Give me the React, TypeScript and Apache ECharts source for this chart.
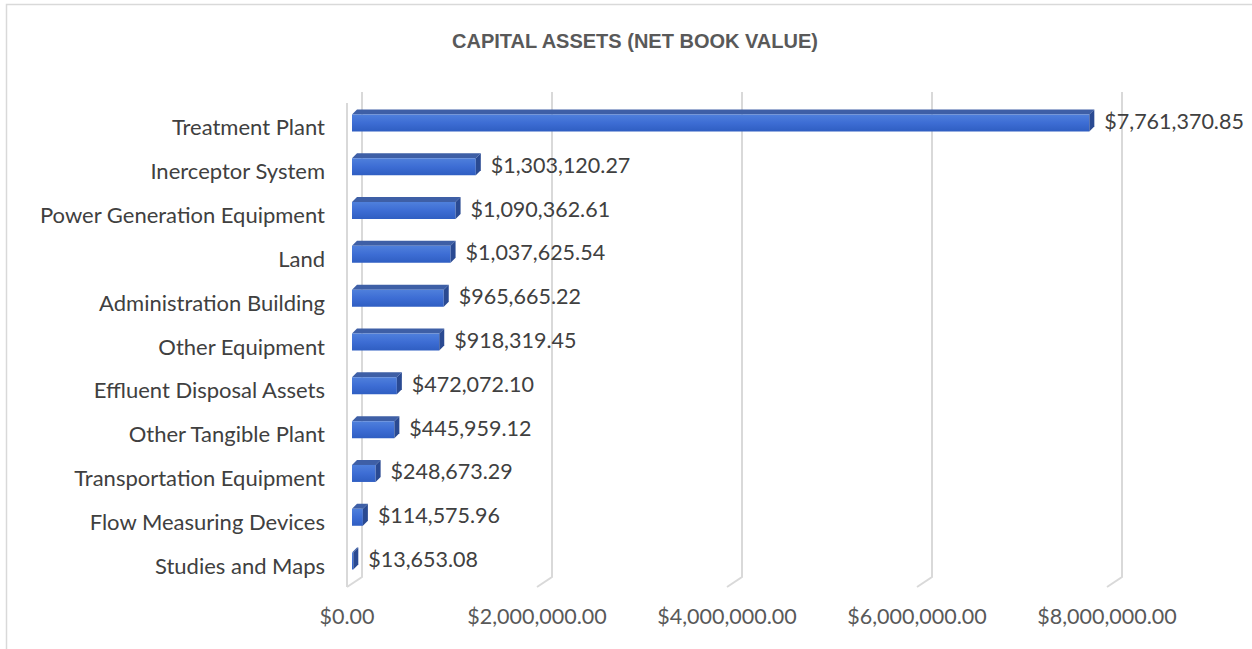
import React, { useEffect, useRef } from "react";
import * as echarts from "echarts";

const titleText = "CAPITAL ASSETS (NET BOOK VALUE)";
const categories = [
  "Treatment Plant",
  "Inerceptor System",
  "Power Generation Equipment",
  "Land",
  "Administration Building",
  "Other Equipment",
  "Effluent Disposal Assets",
  "Other Tangible Plant",
  "Transportation Equipment",
  "Flow Measuring Devices",
  "Studies and Maps",
];
const values = [
  7761370.85, 1303120.27, 1090362.61, 1037625.54, 965665.22, 918319.45,
  472072.1, 445959.12, 248673.29, 114575.96, 13653.08,
];
const xTicks = [0, 2000000, 4000000, 6000000, 8000000];

const fmt = (v: number) =>
  "$" +
  v.toLocaleString("en-US", { minimumFractionDigits: 2, maximumFractionDigits: 2 });

const LABEL_FONT = "Lato, 'Open Sans', sans-serif";

export default function App() {
  const ref = useRef<HTMLDivElement>(null);
  useEffect(() => {
    if (!ref.current) return;
    const chart = echarts.init(ref.current, null, { renderer: "svg" });
    const gridColor = "#d9d9d9";
    const option: any = {
      animation: false,
      backgroundColor: "#ffffff",
      title: {
        text: titleText,
        left: 630,
        top: 26,
        textAlign: "center",
        textStyle: {
          fontFamily: "'Liberation Sans Narrow', 'Liberation Sans', Arial, sans-serif",
          fontWeight: "bold",
          fontSize: 20,
          color: "#595959",
        },
      },
      graphic: [
        {
          type: "rect",
          shape: { x: 6.5, y: 4.5, width: 1260, height: 660 },
          style: { fill: "none", stroke: "#d9d9d9", lineWidth: 1.5 },
          silent: true,
        },
      ],
      grid: { left: 347, top: 105, width: 760, height: 482, containLabel: false },
      xAxis: {
        type: "value",
        min: 0,
        max: 8000000,
        interval: 2000000,
        splitLine: { show: false },
        axisLine: { show: false },
        axisTick: { show: false },
        axisLabel: {
          formatter: (v: number) => fmt(v),
          margin: 18,
          color: "#595959",
          fontSize: 21.5,
          fontFamily: LABEL_FONT,
        },
      },
      yAxis: {
        type: "category",
        data: categories,
        inverse: true,
        axisLine: { show: false },
        axisTick: { show: false },
        splitLine: { show: false },
        axisLabel: {
          margin: 22,
          color: "#404040",
          fontSize: 22,
          fontFamily: LABEL_FONT,
        },
      },
      series: [
        {
          type: "custom",
          name: "grid",
          silent: true,
          z: 1,
          data: xTicks.map((t) => [t, 0]),
          renderItem: (params: any, api: any) => {
            const x = api.coord([api.value(0), 0])[0];
            const cs = params.coordSys;
            const top = cs.y - 13;
            const bottom = cs.y + cs.height;
            const children: any[] = [
              {
                type: "polyline",
                shape: {
                  points: [
                    [x + 15, top],
                    [x + 15, bottom - 10],
                    [x, bottom],
                  ],
                },
                style: { stroke: gridColor, lineWidth: 2, fill: null },
              },
            ];
            if (api.value(0) === 0) {
              children.push({
                type: "line",
                shape: { x1: x, y1: top + 11, x2: x, y2: bottom },
                style: { stroke: gridColor, lineWidth: 2 },
              });
            }
            return { type: "group", children };
          },
        },
        {
          type: "custom",
          name: "bars",
          z: 5,
          data: values.map((v, i) => [v, i]),
          renderItem: (params: any, api: any) => {
            const v = api.value(0);
            const idx = api.value(1);
            const end = api.coord([v, idx]);
            const start = api.coord([0, idx]);
            const dx = 5;
            const x0 = start[0] + 5;
            const x1 = end[0] + 5;
            const h = 17;
            const y0 = end[1] - 4 - h / 2;
            const d = 5;
            return {
              type: "group",
              children: [
                {
                  type: "polygon",
                  shape: {
                    points: [
                      [x0, y0],
                      [x1, y0],
                      [x1 + dx, y0 - d],
                      [x0 + dx, y0 - d],
                    ],
                  },
                  style: { fill: "#3e5fa6" },
                },
                {
                  type: "rect",
                  shape: { x: x0, y: y0, width: Math.max(x1 - x0, 0.5), height: h },
                  style: {
                    fill: {
                      type: "linear",
                      x: 0,
                      y: 0,
                      x2: 0,
                      y2: 1,
                      colorStops: [
                        { offset: 0, color: "#4f80dc" },
                        { offset: 0.5, color: "#3d6dd4" },
                        { offset: 1, color: "#2f5ec2" },
                      ],
                    },
                  },
                },
                {
                  type: "polygon",
                  shape: {
                    points: [
                      [x1, y0],
                      [x1 + dx, y0 - d],
                      [x1 + dx, y0 + h - d],
                      [x1, y0 + h],
                    ],
                  },
                  style: { fill: "#2a4a92" },
                },
                {
                  type: "text",
                  style: {
                    text: fmt(v),
                    x: x1 + dx + 10,
                    y: end[1] - 6,
                    align: "left",
                    verticalAlign: "middle",
                    fill: "#404040",
                    fontSize: 21.5,
                    fontFamily: LABEL_FONT,
                  },
                },
              ],
            };
          },
        },
      ],
    };
    chart.setOption(option);
    return () => chart.dispose();
  }, []);
  return (
    <div
      ref={ref}
      style={{ position: "fixed", left: 0, top: 0, width: 1252, height: 649 }}
    />
  );
}
